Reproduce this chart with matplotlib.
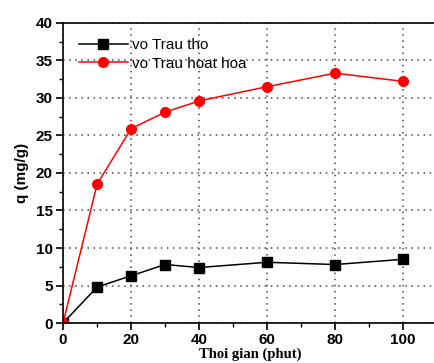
import matplotlib
matplotlib.use('Agg')
from matplotlib import pyplot as plt
from matplotlib.ticker import MultipleLocator

time_x = [0, 10, 20, 30, 40, 60, 80, 100]
raw_y = [0, 4.8, 6.3, 7.8, 7.4, 8.1, 7.8, 8.5]
activated_y = [0, 18.5, 25.9, 28.1, 29.6, 31.5, 33.3, 32.2]

plt.rcParams['font.family'] = ['Liberation Sans', 'DejaVu Sans']

fig = plt.figure(figsize=(4.35, 3.63), dpi=100)
ax = fig.add_axes([0.145, 0.11, 0.86, 0.827])

ax.plot(time_x, raw_y, color='black', marker='s', markersize=7, linewidth=1.1, label='vo Trau tho')
ax.plot(time_x, activated_y, color='red', marker='o', markersize=7, linewidth=1.1, label='vo Trau hoat hoa')

ax.set_xlim(0, 110)
ax.set_ylim(0, 40)
ax.xaxis.set_major_locator(MultipleLocator(20))
ax.xaxis.set_minor_locator(MultipleLocator(10))
ax.yaxis.set_major_locator(MultipleLocator(5))
ax.yaxis.set_minor_locator(MultipleLocator(2.5))
ax.tick_params(which='major', direction='out', length=5, width=1.2, labelsize=11, pad=2.5)
ax.tick_params(which='minor', direction='out', length=3, width=1.0)
for lbl in ax.get_xticklabels() + ax.get_yticklabels():
    lbl.set_fontweight('bold')
for sp in ax.spines.values():
    sp.set_linewidth(1.2)

ax.grid(True, which='major', linestyle=(0, (1, 3)), color='#444444', linewidth=1.1)

ax.set_ylabel('q (mg/g)', fontsize=11, fontweight='bold', labelpad=5)
ax.set_xlabel('Thoi gian (phut)', fontsize=10.5, fontweight='bold', family=['Liberation Serif'], labelpad=0)

ax.legend(loc='upper left', bbox_to_anchor=(0.005, 0.995), frameon=False, fontsize=11,
          handlelength=3.2, handletextpad=0.3, labelspacing=0.3)

fig.savefig('out.png', dpi=100)
